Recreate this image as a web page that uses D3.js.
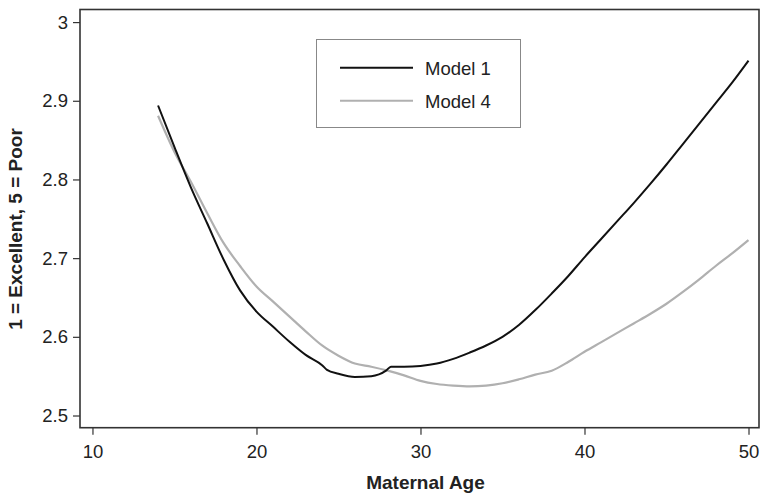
<!DOCTYPE html>
<html lang="en">
<head>
    <meta charset="UTF-8">
    <title>Maternal Age Curves</title>
    <script src="https://d3js.org/d3.v7.min.js"></script>
    <style>
        body {
            margin: 0;
            padding: 0;
            background-color: #fff;
            font-family: "Liberation Sans", Arial, sans-serif;
        }
        svg {
            display: block;
        }
    </style>
</head>
<body>
    <svg id="chart" width="761" height="494"></svg>

    <script>
        // Model 1 (black)
        const age1 = [14, 15, 16, 17, 18, 19, 20, 21, 22, 23, 24, 24.3, 25, 26, 27, 27.9, 28.2, 29, 30,
            31, 32, 33, 34, 35, 36, 37, 38, 39, 40, 41, 42, 43, 44, 45, 46, 47, 48, 49, 50];
        const model1 = [2.894, 2.841, 2.790, 2.744, 2.698, 2.659, 2.632, 2.613, 2.594, 2.577, 2.564, 2.558,
            2.553, 2.549, 2.550, 2.557, 2.562, 2.562, 2.563,
            2.566, 2.572, 2.580, 2.589, 2.600, 2.615, 2.634, 2.655, 2.677, 2.701, 2.724, 2.747,
            2.770, 2.794, 2.819, 2.845, 2.871, 2.897, 2.923, 2.951];

        // Model 4 (gray)
        const age4 = [14, 15, 16, 17, 18, 19, 20, 21, 22, 23, 24, 25, 26, 27, 28, 29, 30,
            31, 32, 33, 34, 35, 36, 37, 38, 39, 40, 41, 42, 43, 44, 45, 46, 47, 48, 49, 50];
        const model4 = [2.881, 2.835, 2.797, 2.757, 2.719, 2.690, 2.664, 2.645, 2.626, 2.607, 2.589,
            2.576, 2.566, 2.562, 2.557, 2.551, 2.544,
            2.540, 2.538, 2.537, 2.538, 2.541, 2.546, 2.552, 2.557, 2.568, 2.581, 2.593, 2.605,
            2.617, 2.629, 2.642, 2.657, 2.673, 2.690, 2.706, 2.723];

        const xTicks = [10, 20, 30, 40, 50];
        const yTicks = [2.5, 2.6, 2.7, 2.8, 2.9, 3];
        const legendLabels = ["Model 1", "Model 4"];
        const lineColors = ["#111", "#b0b0b0"];

        const svg = d3.select("#chart");

        const plotLeft = 80, plotRight = 759, plotTop = 9.5, plotBottom = 427.7;

        const x = d3.scaleLinear().domain([9.24, 50.64]).range([plotLeft, plotRight]);
        const y = d3.scaleLinear().domain([2.4845, 3.016]).range([plotBottom, plotTop]);

        // Axes
        const xAxis = svg.append("g")
            .attr("transform", `translate(0,${plotBottom})`)
            .call(d3.axisBottom(x).tickValues(xTicks).tickSize(7).tickPadding(10).tickFormat(d3.format("d")));

        const yAxis = svg.append("g")
            .attr("transform", `translate(${plotLeft},0)`)
            .call(d3.axisLeft(y).tickValues(yTicks).tickSize(7).tickPadding(5).tickFormat(d => d === 3 ? "3" : d3.format(".1f")(d)));

        [xAxis, yAxis].forEach(g => {
            g.select(".domain").remove();
            g.selectAll(".tick line").attr("stroke", "#333").attr("stroke-width", 1.2);
            g.selectAll(".tick text")
                .attr("fill", "#222")
                .attr("font-size", "18.5px")
                .attr("font-family", "'Liberation Sans', Arial, sans-serif");
        });

        // Frame
        svg.append("rect")
            .attr("x", plotLeft)
            .attr("y", plotTop)
            .attr("width", plotRight - plotLeft)
            .attr("height", plotBottom - plotTop)
            .attr("fill", "none")
            .attr("stroke", "#333")
            .attr("stroke-width", 1.6);

        // Curves
        const line = d3.line()
            .x(d => x(d[0]))
            .y(d => y(d[1]))
            .curve(d3.curveMonotoneX);

        const series = [d3.zip(age1, model1), d3.zip(age4, model4)];

        // draw gray first so black sits on top
        svg.append("path")
            .datum(series[1])
            .attr("d", line)
            .attr("fill", "none")
            .attr("stroke", lineColors[1])
            .attr("stroke-width", 2.2);

        svg.append("path")
            .datum(series[0])
            .attr("d", line)
            .attr("fill", "none")
            .attr("stroke", lineColors[0])
            .attr("stroke-width", 2);

        // Legend
        const legend = svg.append("g");
        legend.append("rect")
            .attr("x", 316.5)
            .attr("y", 39.5)
            .attr("width", 204)
            .attr("height", 88)
            .attr("fill", "#fff")
            .attr("stroke", "#888")
            .attr("stroke-width", 1);

        legendLabels.forEach((lab, i) => {
            const ly = 67.7 + i * 33;
            legend.append("line")
                .attr("x1", 340).attr("x2", 413)
                .attr("y1", ly).attr("y2", ly)
                .attr("stroke", lineColors[i])
                .attr("stroke-width", 2);
            legend.append("text")
                .attr("x", 425)
                .attr("y", ly + 7.5)
                .attr("fill", "#222")
                .attr("font-size", "18.5px")
                .text(lab);
        });

        // Axis titles
        svg.append("text")
            .attr("x", 425.5)
            .attr("y", 489)
            .attr("text-anchor", "middle")
            .attr("font-weight", "bold")
            .attr("font-size", "19px")
            .attr("fill", "#222")
            .text("Maternal Age");

        svg.append("text")
            .attr("transform", "translate(22,229) rotate(-90)")
            .attr("text-anchor", "middle")
            .attr("font-weight", "bold")
            .attr("font-size", "19px")
            .attr("fill", "#222")
            .text("1 = Excellent, 5 = Poor");
    </script>
</body>
</html>
